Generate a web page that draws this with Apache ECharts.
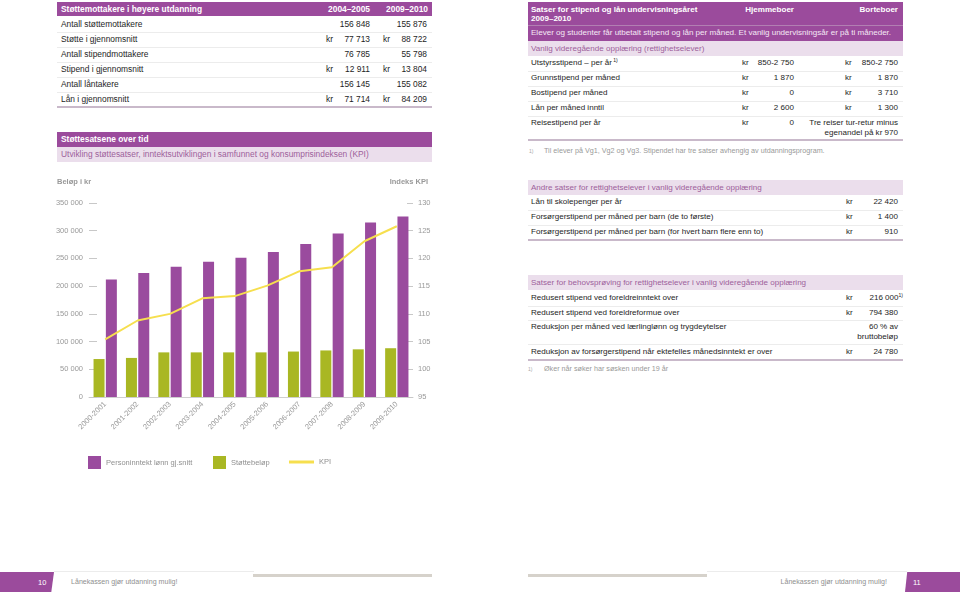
<!DOCTYPE html>
<html><head><meta charset="utf-8">
<script src="https://cdn.jsdelivr.net/npm/echarts/dist/echarts.min.js"></script>
<style>
html,body{margin:0;padding:0;}
body{width:960px;height:595px;position:relative;background:#fff;font-family:"Liberation Sans",Arial,sans-serif;overflow:hidden;color:#222;}
.a{position:absolute;white-space:nowrap;}
.box{position:absolute;}
</style></head><body>
<div id="page"></div>
<div id="chart" style="position:absolute;left:0;top:170px;width:470px;height:310px;"></div>
<script>
// ---------- chart data ----------
const categories = ['2000-2001','2001-2002','2002-2003','2003-2004','2004-2005','2005-2006','2006-2007','2007-2008','2008-2009','2009-2010'];
const personinntekt = [212000, 223500, 235000, 244000, 251000, 261500, 276000, 295000, 315000, 325500];
const stottebelop = [68500, 70500, 80500, 80500, 80500, 80500, 82000, 84000, 86000, 88000];
const kpi = [105.4, 108.8, 110.0, 112.8, 113.2, 115.1, 117.7, 118.4, 123.1, 125.8];
const seriesNames = ['Personinntekt lønn gj.snitt', 'Støttebeløp', 'KPI'];

// ---------- table data ----------
const t1Header = ['Støttemottakere i høyere utdanning', '2004–2005', '2009–2010'];
const t1Labels = ['Antall støttemottakere','Støtte i gjennomsnitt','Antall stipendmottakere','Stipend i gjennomsnitt','Antall låntakere','Lån i gjennomsnitt'];
const t1Kr = [false, true, false, true, false, true];
const t1Val2005 = ['156 848','77 713','76 785','12 911','156 145','71 714'];
const t1Val2010 = ['155 876','88 722','55 798','13 804','155 082','84 209'];
const s2Title = 'Støttesatsene over tid';
const s2Sub = 'Utvikling støttesatser, inntektsutviklingen i samfunnet og konsumprisindeksen (KPI)';
const axisNameLeft = 'Beløp i kr';
const axisNameRight = 'Indeks KPI';

const t2TitleLines = ['Satser for stipend og lån undervisningsåret', '2009–2010'];
const t2Cols = ['Hjemmeboer', 'Borteboer'];
const t2Intro = 'Elever og studenter får utbetalt stipend og lån per måned. Et vanlig undervisningsår er på ti måneder.';
const t2Sub = 'Vanlig videregående opplæring (rettighetselever)';
const t2Labels = ['Utstyrsstipend – per år', 'Grunnstipend per måned', 'Bostipend per måned', 'Lån per måned inntil', 'Reisestipend per år'];
const t2Hjemme = ['850-2 750', '1 870', '0', '2 600', '0'];
const t2Borte = ['850-2 750', '1 870', '3 710', '1 300', 'Tre reiser tur-retur minus|egenandel på kr 970'];
const t2BorteKr = [true, true, true, true, false];
const t2Note = 'Til elever på Vg1, Vg2 og Vg3. Stipendet har tre satser avhengig av utdanningsprogram.';

const t3Title = 'Andre satser for rettighetselever i vanlig videregående opplæring';
const t3Labels = ['Lån til skolepenger per år', 'Forsørgerstipend per måned per barn (de to første)', 'Forsørgerstipend per måned per barn (for hvert barn flere enn to)'];
const t3Values = ['22 420', '1 400', '910'];

const t4Title = 'Satser for behovsprøving for rettighetselever i vanlig videregående opplæring';
const t4Labels = ['Redusert stipend ved foreldreinntekt over', 'Redusert stipend ved foreldreformue over', 'Reduksjon per måned ved lærlinglønn og trygdeytelser', 'Reduksjon av forsørgerstipend når ektefelles månedsinntekt er over'];
const t4Values = ['216 000', '794 380', '60 % av|bruttobeløp', '24 780'];
const t4Kr = [true, true, false, true];
const t4Note = 'Øker når søker har søsken under 19 år';

const footerText = 'Lånekassen gjør utdanning mulig!';
const pageNumbers = ['10', '11'];

// ---------- page builder ----------
const PURPLE = '#9b4b9c', LAV = '#ebdeec', LAVTXT = '#9d5f9b', FS = 8.4, FR = 8.05;
const page = document.getElementById('page');
function box(x, y, w, h, bg, extra) {
  const d = document.createElement('div'); d.className = 'box';
  d.style.cssText += `left:${x}px;top:${y}px;width:${w}px;height:${h}px;background:${bg};` + (extra || '');
  page.appendChild(d); return d;
}
function txt(s, x, y, opt) {
  opt = opt || {};
  const d = document.createElement('div'); d.className = 'a';
  const fs = opt.fs || FS;
  d.style.fontSize = fs + 'px';
  d.style.color = opt.color || '#1e1e1e';
  if (opt.bold) d.style.fontWeight = 'bold';
  d.style.lineHeight = (opt.lh || fs * 1.2) + 'px';
  const lines = s.split('|');
  d.innerHTML = lines.join('<br>') + (opt.sup ? `<sup style="font-size:5px;vertical-align:3px;line-height:0">${opt.sup}</sup>` : '');
  if (opt.right) { d.style.right = (960 - x) + 'px'; d.style.textAlign = 'right'; }
  else d.style.left = x + 'px';
  d.style.top = (y - (opt.lh || fs * 1.2) / 2) + 'px';
  page.appendChild(d); return d;
}
function hline(x, y, w, col, h) { box(x, y, w, h || 1, col); }

// Table 1
box(57, 2, 375, 14, PURPLE);
txt(t1Header[0], 61, 9, {bold: true, color: '#fff'});
txt(t1Header[1], 370, 9, {bold: true, color: '#fff', right: true});
txt(t1Header[2], 428, 9, {bold: true, color: '#fff', right: true});
t1Labels.forEach((l, i) => {
  const cy = 24.5 + i * 15;
  txt(l, 61, cy);
  if (t1Kr[i]) { txt('kr', 326, cy); txt('kr', 383, cy); }
  txt(t1Val2005[i], 370, cy, {right: true});
  txt(t1Val2010[i], 427, cy, {right: true});
  if (i < t1Labels.length - 1) hline(57, cy + 7, 375, '#ececec');
});
hline(57, 106, 375, '#c9b9ca', 1.5);

// Section 2
box(57, 132, 375, 15, PURPLE);
txt(s2Title, 61, 139.5, {bold: true, color: '#fff'});
box(57, 147, 375, 15, LAV);
txt(s2Sub, 61, 154.5, {color: LAVTXT});

// Table 2
box(528, 2, 375, 23, PURPLE);
txt(t2TitleLines.join('|'), 531, 9.5, {bold: true, color: '#fff', lh: 9.5, fs: FR});
txt(t2Cols[0], 794, 9.5, {bold: true, color: '#fff', right: true, fs: FR});
txt(t2Cols[1], 898, 9.5, {bold: true, color: '#fff', right: true, fs: FR});
box(528, 25, 375, 15.5, PURPLE, 'border-top:1px solid #b27fb2;box-sizing:border-box;');
txt(t2Intro, 531, 33, {color: '#f4e8f4', fs: FR});
box(528, 41, 375, 15, LAV);
txt(t2Sub, 531, 48.5, {color: LAVTXT, fs: FR});
const t2cy = [63, 78, 93, 108, 123];
t2Labels.forEach((l, i) => {
  const cy = t2cy[i];
  txt(l, 531, cy, i === 0 ? {sup: ' 1)', fs: FR} : {fs: FR});
  txt('kr', 742, cy, {fs: FR});
  txt(t2Hjemme[i], 794, cy, {right: true, fs: FR});
  if (t2BorteKr[i]) txt('kr', 845, cy, {fs: FR});
  txt(t2Borte[i], 898, cy, {right: true, lh: 10, fs: FR});
  if (i < t2Labels.length - 1) hline(528, cy + 7.5, 375, '#ececec');
});
hline(528, 139, 375, '#c9b9ca', 1.5);
txt('1)', 529, 150.5, {fs: 5, color: '#aaa'});
txt(t2Note, 544, 151, {fs: 7.2, color: '#999'});

// Table 3
box(528, 180, 375, 15, LAV);
txt(t3Title, 531, 187.5, {color: LAVTXT, fs: FR});
t3Labels.forEach((l, i) => {
  const cy = 202 + i * 15;
  txt(l, 531, cy, {fs: FR});
  txt('kr', 846, cy, {fs: FR});
  txt(t3Values[i], 898, cy, {right: true, fs: FR});
  if (i < t3Labels.length - 1) hline(528, cy + 7.5, 375, '#ececec');
});
hline(528, 239, 375, '#c9b9ca', 1.5);

// Table 4
box(528, 275, 375, 15, LAV);
txt(t4Title, 531, 282.5, {color: LAVTXT, fs: FR});
const t4cy = [298, 312.5, 327, 352];
t4Labels.forEach((l, i) => {
  const cy = t4cy[i];
  txt(l, 531, cy, {fs: FR});
  if (t4Kr[i]) txt('kr', 846, cy, {fs: FR});
  txt(t4Values[i], i === 0 ? 903 : 898, cy, {right: true, lh: 10, fs: FR, sup: i === 0 ? '1)' : null});
  if (i < t4Labels.length - 1) hline(528, (i === 2 ? 344 : cy + 7.5), 375, '#ececec');
});
hline(528, 359, 375, '#c9b9ca', 1.5);
txt('1)', 528, 369, {fs: 5, color: '#aaa'});
txt(t4Note, 544, 369.5, {fs: 7.2, color: '#999'});

// Footer
box(0, 572, 54, 20, PURPLE, 'clip-path:polygon(0 0,100% 0,95% 100%,0 100%);');
txt(pageNumbers[0], 38, 582, {fs: 7.5, color: '#fff'});
box(905, 572, 55, 20, PURPLE, 'clip-path:polygon(4% 0,100% 0,100% 100%,0 100%);');
txt(pageNumbers[1], 913, 582, {fs: 7.5, color: '#fff'});
txt(footerText, 71, 582, {fs: 7.1, color: '#8f8f8f'});
txt(footerText, 887, 582, {fs: 7.1, color: '#8f8f8f', right: true});
hline(54, 571, 200, '#ececec');
hline(707, 571, 200, '#ececec');
box(253, 574, 179, 2.5, '#d6d2cb');
box(528, 574, 179, 2.5, '#d6d2cb');

// ---------- chart ----------
const chart = echarts.init(document.getElementById('chart'));
const fmt = v => String(v).replace(/\B(?=(\d{3})+(?!\d))/g, ' ');
const gray = '#999';
const legendText = {fontSize: 7.5, color: '#909090'};
chart.setOption({
  animation: false,
  textStyle: {fontFamily: '"Liberation Sans", Arial, sans-serif'},
  grid: {left: 89, top: 33, width: 324, height: 194, containLabel: false},
  graphic: [
    {type: 'text', left: 57, top: 8, style: {text: axisNameLeft, fill: '#999', fontSize: 7.5, fontWeight: 'bold', fontFamily: '"Liberation Sans", Arial'}},
    {type: 'text', right: 470 - 428, top: 8, style: {text: axisNameRight, fill: '#999', fontSize: 7.5, fontWeight: 'bold', fontFamily: '"Liberation Sans", Arial'}}
  ],
  legend: [
    {data: [seriesNames[0]], left: 83, top: 281, itemWidth: 13, itemHeight: 13, icon: 'rect', textStyle: legendText},
    {data: [seriesNames[1]], left: 208, top: 281, itemWidth: 13, itemHeight: 13, icon: 'rect', textStyle: legendText},
    {data: [seriesNames[2]], left: 284, top: 283, itemWidth: 25, itemHeight: 3, icon: 'rect', textStyle: legendText}
  ],
  xAxis: {
    type: 'category', data: categories,
    axisLine: {lineStyle: {color: '#cfcfcf'}},
    axisTick: {inside: true, length: 3, lineStyle: {color: '#cfcfcf'}},
    axisLabel: {rotate: 45, fontSize: 7.5, color: gray, margin: 6, interval: 0}
  },
  yAxis: [
    {type: 'value', min: 0, max: 350000, interval: 50000,
     axisLine: {show: false}, splitLine: {show: false},
     axisTick: {show: true, inside: true, length: 8, lineStyle: {color: '#c8c8c8'}},
     axisLabel: {formatter: fmt, fontSize: 7.5, color: gray, margin: 6}},
    {type: 'value', min: 95, max: 130, interval: 5, position: 'right',
     axisLine: {show: false}, splitLine: {show: false},
     axisTick: {show: true, inside: true, length: 6, lineStyle: {color: '#c8c8c8'}},
     axisLabel: {fontSize: 7.5, color: gray, margin: 5}}
  ],
  series: [
    {name: seriesNames[1], type: 'bar', data: stottebelop, barWidth: 11, barGap: '12%', itemStyle: {color: '#a9b723'}},
    {name: seriesNames[0], type: 'bar', data: personinntekt, barWidth: 11, barGap: '12%', itemStyle: {color: '#9a4b9e'}},
    {name: seriesNames[2], type: 'line', yAxisIndex: 1, data: kpi, showSymbol: false, symbol: 'none', lineStyle: {color: '#f6df4e', width: 2}, itemStyle: {color: '#f6df4e'}}
  ]
});
</script>
</body></html>
